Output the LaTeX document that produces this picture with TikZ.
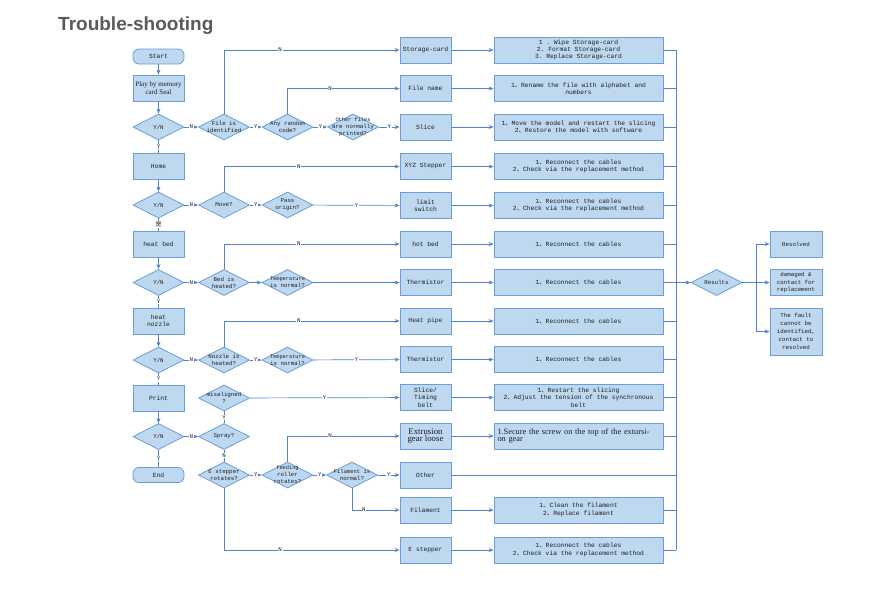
\documentclass[tikz,border=0pt]{standalone}
\usepackage{fontspec}
\setmainfont{Liberation Serif}
\setmonofont{Liberation Mono}
\newfontfamily\cjk{Noto Sans CJK SC}
\newfontfamily\titlefont{Liberation Sans}
\usetikzlibrary{shapes.geometric,arrows.meta}
\definecolor{ln}{RGB}{84,132,200}
\definecolor{bd}{RGB}{108,158,214}
\definecolor{fl}{RGB}{190,216,240}
\definecolor{tx}{RGB}{30,30,36}
\definecolor{tt}{RGB}{90,90,90}
\newcommand\dn{{\cjk 、}}
\newcommand\Dia[3]{\node[dia] (#1) at (#2) {}; \node[dt] (#1t) at (#1) {#3};}
\tikzset{
  box/.style={draw=bd, fill=fl, line width=0.8pt, minimum width=51pt, minimum height=26pt, inner sep=1pt, align=center, text=tx},
  wide/.style={box, minimum width=169pt},
  term/.style={box, rounded corners=6pt, minimum height=15pt},
  dia/.style={diamond, draw=bd, fill=fl, line width=0.8pt, minimum width=51pt, minimum height=26pt, inner sep=0pt},
  dt/.style={align=center, inner sep=0pt, text=tx, font=\ttfamily\fontsize{5.8}{7}\selectfont},
  con/.style={draw=ln, line width=0.7pt},
  arr/.style={con, -{Stealth[length=5pt,width=4pt]}},
  lab/.style={fill=white, inner sep=0.6pt, text=tx, font=\ttfamily\fontsize{5.8}{6}\selectfont},
  serif/.style={font=\rmfamily\fontsize{7}{7.7}\selectfont},
  small/.style={font=\ttfamily\fontsize{5.8}{7.8}\selectfont}
}
\begin{document}
\begin{tikzpicture}[x=1pt,y=-1pt,font=\ttfamily\fontsize{6.3}{7.3}\selectfont]
\fill[white] (0,0) rectangle (893,595);
\useasboundingbox (0,0) rectangle (893,595);
\node[anchor=base west, inner sep=0pt, text=tt, font=\titlefont\bfseries\fontsize{19}{19}\selectfont] (title) at (58,30) {Trouble-shooting};

% left column
\node[term] (start) at (158.5,56.5) {Start};
\node[box,serif] (play) at (158.5,88) {Play by memory\\card Seal};
\Dia{yn1}{158.5,127}{Y/N}
\node[box] (home) at (158.5,166.5) {Home};
\Dia{yn2}{158.5,205}{Y/N}
\node[box] (heatbed) at (158.5,244) {heat bed};
\Dia{yn3}{158.5,282.5}{Y/N}
\node[box] (nozzle) at (158.5,321) {heat\\nozzle};
\Dia{yn4}{158.5,360}{Y/N}
\node[box] (print) at (158.5,398) {Print};
\Dia{yn5}{158.5,436.5}{Y/N}
\node[term] (endn) at (158.5,475) {End};

% second column diamonds
\Dia{fi}{224,127}{File is\\identified}
\Dia{mv}{224,205}{Move?}
\Dia{bh}{224,282.5}{Bed is\\heated?}
\Dia{nh}{224,360}{Nozzle is\\heated?}
\Dia{mis}{224,398}{misaligned\\?}
\Dia{spray}{224,436.5}{Spray?}
\Dia{es}{224,475}{E stepper\\rotates?}

% third column diamonds
\Dia{arc}{287.5,127}{Any random\\code?}
\Dia{po}{287.5,205}{Pass\\origin?}
\Dia{tn1}{287.5,282.5}{\fontsize{5.3}{6.4}\selectfont Temperature\\is normal?}
\Dia{tn2}{287.5,360}{\fontsize{5.3}{6.4}\selectfont Temperature\\is normal?}
\Dia{fr}{287.5,475}{\fontsize{5.3}{6.4}\selectfont feeding\\roller\\rotates?}

% fourth column diamonds
\Dia{of}{353,127}{\fontsize{5.3}{7.3}\selectfont Other files\\are normally\\printed?}
\Dia{fn}{352,475}{\fontsize{5.5}{7}\selectfont Filament is\\normal?}

% cause boxes
\node[box] (sc) at (425.5,50) {Storage-card};
\node[box] (fname) at (425.5,88.5) {File name};
\node[box] (slice) at (425.5,127) {Slice};
\node[box] (xyz) at (425.5,166.5) {XYZ Stepper};
\node[box] (lim) at (425.5,205.5) {limit\\switch};
\node[box] (hb) at (425.5,244) {hot bed};
\node[box] (th1) at (425.5,282.5) {Thermistor};
\node[box] (hp) at (425.5,321) {Heat pipe};
\node[box] (th2) at (425.5,359.5) {Thermistor};
\node[box] (stb) at (425.5,397.5) {Slice/\\Timing\\belt};
\node[box,font=\rmfamily\fontsize{8.8}{7.8}\selectfont] (egl) at (425.5,436) {Extrusion\\gear loose};
\node[box] (oth) at (425.5,475) {Other};
\node[box] (fil) at (425.5,510) {Filament};
\node[box] (esb) at (425.5,550) {E stepper};

% solution boxes
\node[wide] (w1) at (578.5,50) {1 . Wipe Storage-card\\2. Format Storage-card\\3. Replace Storage-card};
\node[wide] (w2) at (578.5,88.5) {1\dn Rename the file with alphabet and\\numbers};
\node[wide] (w3) at (578.5,127) {1\dn Move the model and restart the slicing\\2\dn Restore the model with software};
\node[wide] (w4) at (578.5,166.5) {1\dn Reconnect the cables\\2\dn Check via the replacement method};
\node[wide] (w5) at (578.5,205.5) {1\dn Reconnect the cables\\2\dn Check via the replacement method};
\node[wide] (w6) at (578.5,244) {1\dn Reconnect the cables};
\node[wide] (w7) at (578.5,282.5) {1\dn Reconnect the cables};
\node[wide] (w8) at (578.5,321) {1\dn Reconnect the cables};
\node[wide] (w9) at (578.5,359.5) {1\dn Reconnect the cables};
\node[wide] (w10) at (578.5,397.5) {1\dn Restart the slicing\\2\dn Adjust the tension of the synchronous\\belt};
\node[wide,font=\rmfamily\fontsize{8.3}{7.2}\selectfont,align=left,text width=162pt] (w11) at (578.5,436) {1.Secure the screw on the top of the extursi-\\on gear};
\node[wide] (w12) at (578.5,510) {1\dn Clean the filament\\2\dn Replace filament};
\node[wide] (w13) at (578.5,550) {1\dn Reconnect the cables\\2\dn Check via the replacement method};

% results
\Dia{res}{716.5,282.5}{Results}
\node[box,small,minimum width=52pt] (rs) at (796,244) {Resolved};
\node[box,small,minimum width=52pt] (dmg) at (796,282.5) {damaged \&\\contact for\\replacement};
\node[box,small,minimum width=52pt,minimum height=47pt] (flt) at (796,331.5) {The fault\\cannot be\\identified,\\contact to\\resolved};

% left column connectors
\draw[arr] (start) -- (play);
\draw[arr] (play) -- (yn1);
\draw[con] (yn1) -- node[lab]{Y} (home);
\draw[arr] (home) -- (yn2);
\draw[con] (yn2) -- node[lab,font=\cjk\fontsize{6}{6}\selectfont]{是} (heatbed);
\draw[arr] (heatbed) -- (yn3);
\draw[con] (yn3) -- node[lab]{Y} (nozzle);
\draw[arr] (nozzle) -- (yn4);
\draw[con] (yn4) -- node[lab]{Y} (print);
\draw[arr] (print) -- (yn5);
\draw[con] (yn5) -- node[lab]{Y} (endn);

% row 1
\draw[arr] (yn1) -- node[lab]{N} (fi);
\draw[arr] (fi.north) |- node[lab,pos=0.66]{N} (sc.west);
\draw[arr] (fi) -- node[lab]{Y} (arc);
\draw[arr] (arc.north) |- node[lab,pos=0.69]{N} (fname.west);
\draw[arr] (arc) -- node[lab]{Y} (of);
\draw[arr] (of) -- node[lab]{Y} (slice);
% row 2
\draw[arr] (yn2) -- node[lab]{N} (mv);
\draw[arr] (mv.north) |- node[lab,pos=0.713]{N} (xyz.west);
\draw[arr] (mv) -- node[lab]{Y} (po);
\draw[arr] (po) -- node[lab]{Y} (lim);
% row 3
\draw[arr] (yn3) -- node[lab]{N} (bh);
\draw[arr] (bh.north) |- node[lab,pos=0.713]{N} (hb.west);
\draw[arr] (bh) -- (tn1);
\draw[arr] (tn1) -- (th1);
% row 4
\draw[arr] (yn4) -- node[lab]{N} (nh);
\draw[arr] (nh.north) |- node[lab,pos=0.713]{N} (hp.west);
\draw[arr] (nh) -- node[lab]{Y} (tn2);
\draw[arr] (tn2) -- node[lab]{Y} (th2);
% rows 5-7
\draw[arr] (mis) -- node[lab]{Y} (stb);
\draw[con] (spray) -- node[lab]{Y} (mis);
\draw[arr] (yn5) -- node[lab]{N} (spray);
\draw[con] (spray) -- node[lab]{N} (es);
\draw[arr] (es) -- node[lab]{Y} (fr);
\draw[arr] (fr.north) |- node[lab,pos=0.69]{N} (egl.west);
\draw[arr] (fr) -- node[lab]{Y} (fn);
\draw[arr] (fn) -- node[lab]{Y} (oth);
\draw[arr] (fn.south) |- node[lab,pos=0.625]{N} (fil.west);
\draw[arr] (es.south) |- node[lab,pos=0.66]{N} (esb.west);

% cause -> solution
\foreach \a/\b in {sc/w1,fname/w2,slice/w3,xyz/w4,lim/w5,hb/w6,th1/w7,hp/w8,th2/w9,stb/w10,egl/w11,fil/w12,esb/w13}
  \draw[arr] (\a) -- (\b);

% collector
\coordinate (ctop) at (676,50);
\coordinate (cbot) at (676,550);
\draw[con] (ctop) -- (cbot);
\foreach \b in {w1,w2,w3,w4,w5,w6,w7,w8,w9,w10,w11,w12,w13,oth}
  \draw[con] (\b.east) -- (\b.east -| ctop);
\draw[arr] (res.west -| ctop) -- (res.west);

% results branch
\coordinate (bt) at (756,244);
\coordinate (bb) at (756,331.5);
\draw[con] (res.east) -- (res.east -| bt);
\draw[con] (bt) -- (bb);
\draw[arr] (bt) -- (rs.west);
\draw[arr] (res.east -| bt) -- (dmg.west);
\draw[arr] (bb) -- (flt.west);
\end{tikzpicture}
\end{document}
